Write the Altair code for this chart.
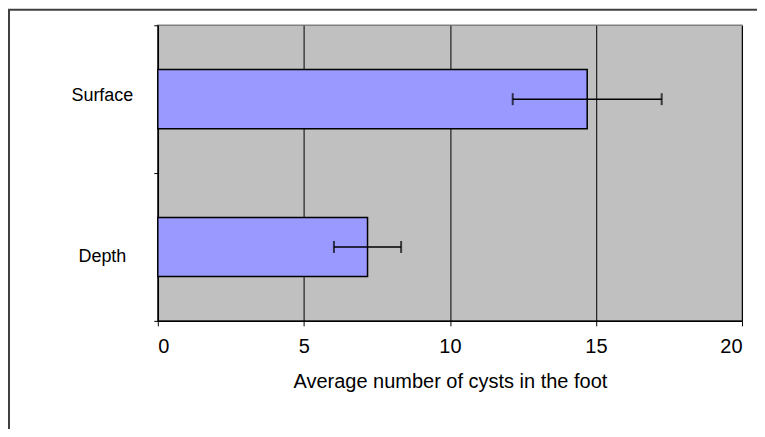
import altair as alt
import pandas as pd

categories = ["Surface", "Depth"]
means = [14.7, 7.18]
errors = [2.55, 1.15]
x_ticks = [0, 5, 10, 15, 20]

df = pd.DataFrame({"cat": categories, "mean": means, "err": errors})
df["lo"] = df["mean"] - df["err"]
df["hi"] = df["mean"] + df["err"]

FONT = "Liberation Sans"

yscale = alt.Scale(domain=categories, paddingInner=0, paddingOuter=0)
xscale = alt.Scale(domain=[0, 20], nice=False, zero=True)

base = alt.Chart(df)

frame = alt.Chart(pd.DataFrame({"a": [0]})).mark_rect(
    fill=None, stroke="#404040", strokeWidth=2
).encode(
    x=alt.value(-149), x2=alt.value(700), y=alt.value(-15.5), y2=alt.value(500)
)

bars = base.mark_bar(fill="#9999FF", stroke="black", strokeWidth=1.5,
                     height={"band": 0.4}).encode(
    y=alt.Y("cat:N", scale=yscale, sort=categories,
            axis=alt.Axis(title=None, tickBand="extent", tickSize=4, tickColor="black",
                          domainColor="black", domainWidth=1.5, labelAlign="center",
                          labelPadding=52,
                          labelOffset={"condition": {"test": "datum.value == 'Depth'", "value": 10},
                                       "value": -4},
                          labelFontSize=18, labelFont=FONT,
                          labelColor="black", grid=False)),
    x=alt.X("mean:Q", scale=xscale,
            axis=alt.Axis(values=x_ticks, title="Average number of cysts in the foot",
                          grid=True, gridColor="black", gridWidth=1,
                          tickSize=5, tickColor="black", domainColor="black",
                          domainWidth=1.5, labelPadding=11, labelFontSize=20,
                          labelFont=FONT, labelColor="black", titleFont=FONT,
                          titleFontSize=20, titleFontWeight="normal", titleColor="black",
                          titlePadding=15)),
)

err_line = base.mark_rule(color="black", strokeWidth=1.5).encode(
    y=alt.Y("cat:N", scale=yscale, sort=categories),
    x=alt.X("lo:Q", scale=xscale),
    x2="hi:Q",
)
cap_lo = base.mark_tick(color="black", thickness=2, size=12, orient="vertical").encode(
    y=alt.Y("cat:N", scale=yscale, sort=categories),
    x=alt.X("lo:Q", scale=xscale),
)
cap_hi = base.mark_tick(color="black", thickness=2, size=12, orient="vertical").encode(
    y=alt.Y("cat:N", scale=yscale, sort=categories),
    x=alt.X("hi:Q", scale=xscale),
)

chart = alt.layer(bars, err_line, cap_lo, cap_hi, frame).properties(
    width=585, height=296,
    autosize=alt.AutoSizeParams(type="none"),
    padding={"left": 150, "top": 17, "right": 15, "bottom": 108},
    background="white",
).configure_view(fill="#C0C0C0", stroke="#808080", strokeWidth=1.5)

chart.save("out.html", embed_options={"renderer": "svg", "actions": False})
